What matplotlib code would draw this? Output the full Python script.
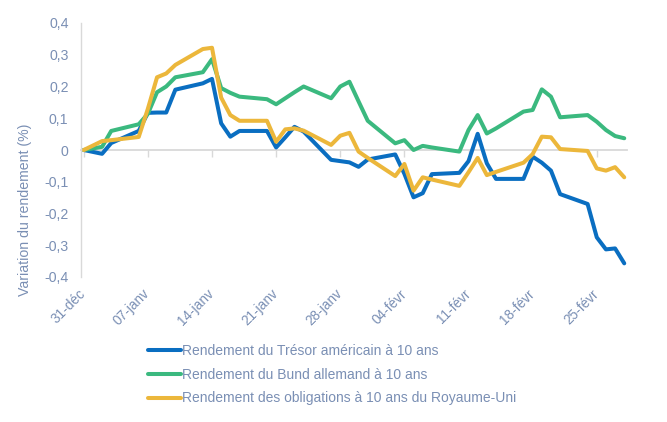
import matplotlib
matplotlib.use("Agg")
import matplotlib.pyplot as plt
from matplotlib.transforms import ScaledTranslation

plt.rcParams['font.family'] = ['Liberation Sans', 'DejaVu Sans']

# jours ouvrés depuis le 31-déc
jours = [0, 2, 3, 6, 7, 8, 9, 10, 13, 14, 15, 16, 17, 20, 21, 22, 23, 24,
         27, 28, 29, 30, 31, 34, 35, 36, 37, 38, 41, 42, 43, 44, 45,
         48, 49, 50, 51, 52, 55, 56, 57, 58, 59]

us = [0, -0.012, 0.022, 0.06, 0.117, 0.118, 0.118, 0.19, 0.21, 0.224, 0.084,
      0.042, 0.06, 0.06, 0.008, 0.04, 0.073, 0.058, -0.031, -0.035, -0.039,
      -0.053, -0.03, -0.014, -0.075, -0.149, -0.136, -0.076, -0.072, -0.035,
      0.051, -0.042, -0.091, -0.091, -0.021, -0.04, -0.065, -0.139, -0.17,
      -0.275, -0.313, -0.31, -0.357]
bund = [0, 0.01, 0.06, 0.081, 0.114, 0.182, 0.2, 0.229, 0.245, 0.286, 0.195,
        0.18, 0.168, 0.16, 0.144, 0.163, 0.182, 0.2, 0.163, 0.2, 0.215,
        0.153, 0.092, 0.021, 0.031, 0.0, 0.013, 0.008, -0.005, 0.063, 0.11,
        0.052, 0.068, 0.121, 0.126, 0.191, 0.168, 0.103, 0.11, 0.089, 0.063,
        0.044, 0.037]
uk = [0, 0.028, 0.031, 0.041, 0.13, 0.229, 0.241, 0.268, 0.318, 0.322, 0.165,
      0.11, 0.092, 0.092, 0.026, 0.065, 0.068, 0.061, 0.016, 0.045, 0.054,
      -0.005, -0.025, -0.082, -0.044, -0.128, -0.086, -0.093, -0.113, -0.07,
      -0.025, -0.079, -0.069, -0.04, -0.013, 0.042, 0.04, 0.003, -0.003,
      -0.058, -0.065, -0.054, -0.086]

series_labels = ["Rendement du Trésor américain à 10 ans",
                 "Rendement du Bund allemand à 10 ans",
                 "Rendement des obligations à 10 ans du Royaume-Uni"]
tick_jours = [0, 7, 14, 21, 28, 35, 42, 49, 56]
tick_labels = ["31-déc", "07-janv", "14-janv", "21-janv", "28-janv",
               "04-févr", "11-févr", "18-févr", "25-févr"]
y_ticks = [-0.4, -0.3, -0.2, -0.1, 0, 0.1, 0.2, 0.3, 0.4]

txt = '#7A8FB4'
grid = '#D9D9D9'
colors = ['#0A6EC1', '#3BB97F', '#ECB73B']

fig = plt.figure(figsize=(6.67, 4.22), dpi=100)
ax = fig.add_axes([81/667, 145/422, 546/667, 254/422])

for vals, c, lab in zip([us, bund, uk], colors, series_labels):
    ax.plot(jours, vals, color=c, lw=2.9, label=lab,
            solid_capstyle='round', solid_joinstyle='round')

ax.set_xlim(-0.3, 59.3)
ax.set_ylim(-0.4, 0.4)

for s in ['top', 'right', 'bottom']:
    ax.spines[s].set_visible(False)
ax.spines['left'].set_color(grid)
ax.spines['left'].set_linewidth(1)

ax.set_yticks(y_ticks)
ax.set_yticklabels(['0' if v == 0 else f"{v:.1f}".replace('.', ',') for v in y_ticks])
ax.tick_params(axis='y', length=0, pad=9, labelsize=10.2, labelcolor=txt)

ax.set_xticks(tick_jours)
ax.set_xticklabels(tick_labels, rotation=45, ha='right', rotation_mode='anchor')
ax.tick_params(axis='x', length=0, pad=7, labelsize=9.8, labelcolor=txt)
shift = ScaledTranslation(-5/100, 0, fig.dpi_scale_trans)
for lbl in ax.get_xticklabels():
    lbl.set_transform(lbl.get_transform() + shift)

# axe horizontal à zéro avec graduations
sec = ax.secondary_xaxis(0.5)
sec.set_alignment('bottom')
sec.set_xticks(tick_jours)
sec.tick_params(axis='x', direction='out', length=5, width=1, color=grid,
                labelbottom=False, labeltop=False)
sec.spines['bottom'].set_color(grid)
sec.spines['bottom'].set_linewidth(1.3)
sec.set_zorder(0)

ax.set_ylabel("Variation du rendement (%)", fontsize=10.2, color=txt)
ax.yaxis.set_label_coords(-0.089, 0.264)

fig.legend(loc='upper left', bbox_to_anchor=(148/667, 1 - 344/422),
           frameon=False, fontsize=10, labelcolor=txt, handlelength=2.4,
           handletextpad=0.05, labelspacing=0.7, borderpad=0, borderaxespad=0)

fig.savefig("out.png", dpi=100)
